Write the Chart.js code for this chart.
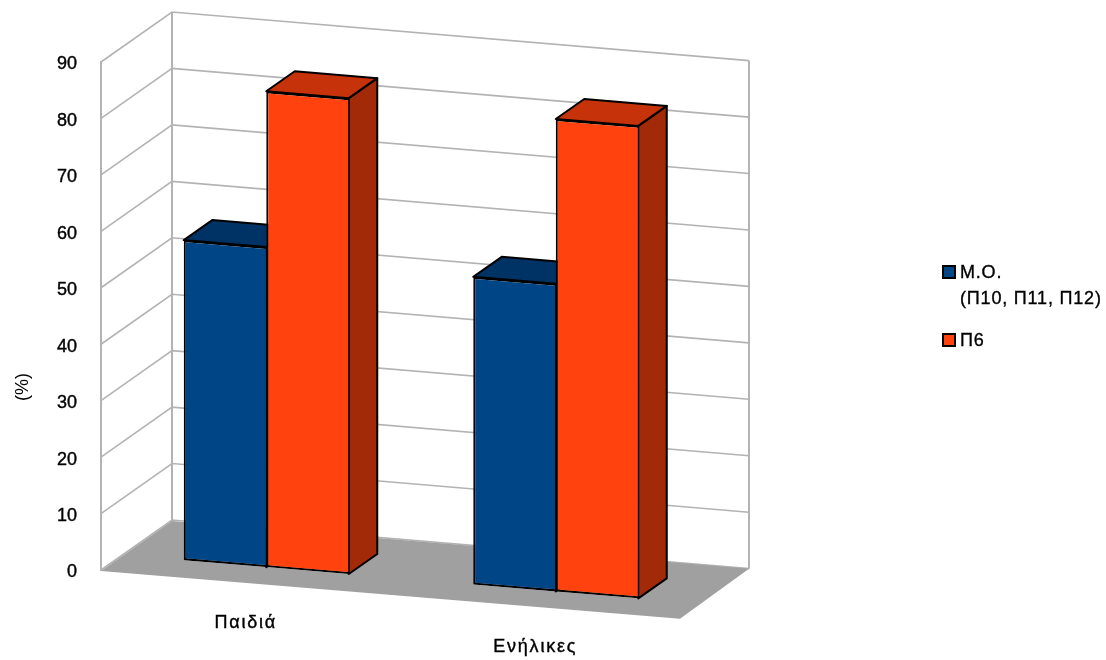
<!DOCTYPE html>
<html lang="el">
<head>
<meta charset="utf-8">
<title>Παιδιά - Ενήλικες</title>
<style>
	html, body { margin: 0; padding: 0; background: #fff; }
	.wrap { position: relative; width: 1106px; height: 660px; overflow: hidden; }
	canvas { display: block; }
	.legend { position: absolute; left: 942px; top: 0; font: 18px "Liberation Sans", sans-serif; letter-spacing: .8px; line-height: 26px; color: #000; -webkit-text-stroke: .35px #000; }
	.legend__item { position: absolute; left: 0; white-space: pre; padding-left: 18px; }
	.legend__box { position: absolute; left: 0; top: 6px; width: 14px; height: 14px; box-sizing: border-box; border: 2px solid #000; }
</style>
<script src="https://cdn.jsdelivr.net/npm/chart.js@4"></script>
</head>
<body>
<div class="wrap">
	<canvas id="chart" width="1106" height="660"></canvas>
	<div class="legend" id="legend"></div>
</div>
<script>
	const CATEGORIES = ['Παιδιά', 'Ενήλικες'];
	const SERIES_LABELS = ['Μ.Ο.\n(Π10, Π11, Π12)', 'Π6'];
	const MEAN_VALUES = [56.7, 54.5];
	const P6_VALUES = [84.3, 83.7];
	const Y_TITLE = '(%)';

	const COLORS = ['#004586', '#ff420e'];
	const TOP_COLORS = ['#003365', '#c6330a'];
	const SIDE_COLORS = ['#002b55', '#a32a09'];
	const GRID_COLOR = '#b3b3b3';
	const FLOOR_COLOR = '#a0a0a0';
	const FONT = '"Liberation Sans", sans-serif';

	const SLOPE = 0.084;         // the whole front plane runs downhill to the right
	const ROOM_DEPTH = { x: 71, y: -50 };
	const BAR_SHIFT = { x: 20.5, y: -16.8 };
	const BAR_DEPTH = { x: 28.5, y: -20 };

	// Пол и стены "комнаты": сетка идет от значений оси Y
	function drawRoom(chart) {
		let { ctx, scales: { x, y } } = chart;
		let base = y.getPixelForValue(0);
		let rise = SLOPE * (x.right - x.left);
		let backLeft = x.left + ROOM_DEPTH.x;
		let backRight = x.right + ROOM_DEPTH.x - 2;

		ctx.save();
		ctx.strokeStyle = GRID_COLOR;
		ctx.lineWidth = 1.6;

		y.ticks.forEach((tick) => {
			let py = y.getPixelForValue(tick.value);
			ctx.beginPath();
			ctx.moveTo(x.left, py);
			ctx.lineTo(backLeft, py + ROOM_DEPTH.y);
			ctx.lineTo(backRight, py + ROOM_DEPTH.y + rise);
			ctx.stroke();
		});

		let top = y.getPixelForValue(y.max) + ROOM_DEPTH.y;
		ctx.lineWidth = 2;
		ctx.beginPath();
		ctx.moveTo(backLeft, top);
		ctx.lineTo(backLeft, base + ROOM_DEPTH.y);
		ctx.moveTo(backRight, top + rise);
		ctx.lineTo(backRight, base + ROOM_DEPTH.y + rise);
		ctx.stroke();

		ctx.fillStyle = FLOOR_COLOR;
		ctx.beginPath();
		ctx.moveTo(x.left, base + 1);
		ctx.lineTo(backLeft, base + ROOM_DEPTH.y + 1);
		ctx.lineTo(backRight, base + ROOM_DEPTH.y + rise);
		ctx.lineTo(x.right, base + rise);
		ctx.closePath();
		ctx.fill();
		ctx.restore();
	}

	function drawFace(ctx, points, color) {
		ctx.fillStyle = color;
		ctx.beginPath();
		points.forEach((p, i) => (i ? ctx.lineTo(p.x, p.y) : ctx.moveTo(p.x, p.y)));
		ctx.closePath();
		ctx.fill();
		ctx.stroke();
	}

	// Верх и правая грань каждого столбца
	function drawBarFaces(chart) {
		let { ctx, chartArea } = chart;
		let project = (x, y) => ({
			x: x + BAR_SHIFT.x,
			y: y + BAR_SHIFT.y + SLOPE * (x + BAR_SHIFT.x - chartArea.left)
		});
		let back = (p) => ({ x: p.x + BAR_DEPTH.x, y: p.y + BAR_DEPTH.y });

		ctx.save();
		ctx.strokeStyle = '#000';
		ctx.lineWidth = 2;
		ctx.lineJoin = 'round';

		chart.data.datasets.forEach((dataset, index) => {
			chart.getDatasetMeta(index).data.forEach((bar) => {
				let left = bar.x - bar.width / 2;
				let right = bar.x + bar.width / 2;
				let topLeft = project(left, bar.y);
				let topRight = project(right, bar.y);
				let baseRight = project(right, bar.base);

				drawFace(ctx, [baseRight, topRight, back(topRight), back(baseRight)], SIDE_COLORS[index]);
				drawFace(ctx, [topLeft, topRight, back(topRight), back(topLeft)], TOP_COLORS[index]);
			});
		});

		ctx.restore();
	}

	function drawLabels(chart) {
		let { ctx, chartArea, scales: { x, y } } = chart;
		let base = y.getPixelForValue(0);

		ctx.save();
		ctx.fillStyle = '#000';
		ctx.strokeStyle = '#000';
		ctx.lineWidth = 0.4;
		ctx.font = '18px ' + FONT;
		ctx.letterSpacing = '1.8px';
		ctx.textAlign = 'center';
		ctx.textBaseline = 'middle';

		CATEGORIES.forEach((label, index) => {
			let px = x.getPixelForTick(index);
			let py = base + SLOPE * (px - chartArea.left) + 41;
			ctx.fillText(label, px, py);
			ctx.strokeText(label, px, py);
		});

		ctx.letterSpacing = '0px';
		ctx.translate(23, 387);
		ctx.rotate(-Math.PI / 2);
		ctx.fillText(Y_TITLE, 0, 0);
		ctx.restore();
	}

	const room3d = {
		id: 'room3d',
		beforeDatasetsDraw(chart) {
			drawRoom(chart);
			drawBarFaces(chart);

			// передние грани рисует сама библиотека, только со сдвигом
			let { ctx, chartArea } = chart;
			ctx.save();
			ctx.transform(1, SLOPE, 0, 1, BAR_SHIFT.x, BAR_SHIFT.y + SLOPE * (BAR_SHIFT.x - chartArea.left));
		},
		afterDatasetsDraw(chart) {
			chart.ctx.restore();
			drawLabels(chart);
		}
	};

	let chart = new Chart(document.getElementById('chart'), {
		type: 'bar',
		data: {
			labels: CATEGORIES,
			datasets: [
				{ label: SERIES_LABELS[0], data: MEAN_VALUES, backgroundColor: COLORS[0] },
				{ label: SERIES_LABELS[1], data: P6_VALUES, backgroundColor: COLORS[1] }
			]
		},
		options: {
			responsive: false,
			animation: false,
			layout: { padding: { top: 62, right: 426, bottom: 90, left: 0 } },
			datasets: {
				bar: {
					clip: false,
					borderColor: '#000',
					borderWidth: { top: 2, bottom: 2, left: 2, right: 0.5 },
					borderSkipped: false,
					categoryPercentage: 0.57,
					barPercentage: 1
				}
			},
			plugins: {
				legend: { display: false },
				tooltip: { enabled: false }
			},
			scales: {
				x: {
					afterFit: (scale) => { scale.height = 0; },
					grid: { display: false },
					border: { display: false },
					ticks: { display: false }
				},
				y: {
					min: 0,
					max: 90,
					afterFit: (scale) => { scale.width = 101; },
					grid: { display: false, drawTicks: false },
					border: { color: GRID_COLOR, width: 2 },
					ticks: {
						stepSize: 10,
						padding: 24,
						labelOffset: 2.5,
						color: '#000',
						textStrokeColor: '#000',
						textStrokeWidth: 0.4,
						font: { family: FONT, size: 18 }
					}
				}
			}
		},
		plugins: [room3d]
	});

	// Легенда
	let legend = document.getElementById('legend');
	let legendTops = [259, 327];

	chart.data.datasets.forEach((dataset, index) => {
		let item = document.createElement('div');
		item.className = 'legend__item';
		item.style.top = legendTops[index] + 'px';
		item.textContent = dataset.label;

		let box = document.createElement('span');
		box.className = 'legend__box';
		box.style.background = dataset.backgroundColor;
		item.appendChild(box);

		legend.appendChild(item);
	});
</script>
</body>
</html>
